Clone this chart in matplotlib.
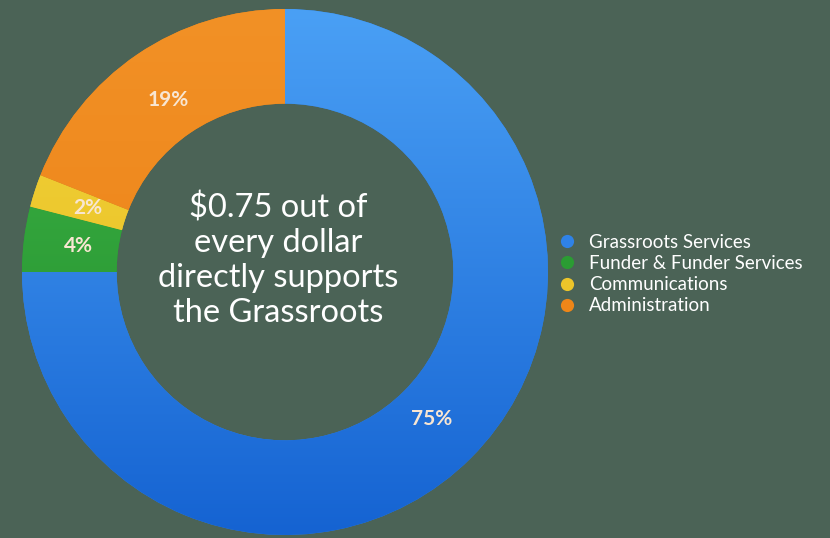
import matplotlib
matplotlib.use("Agg")
from matplotlib import pyplot as plt
from matplotlib.lines import Line2D
from matplotlib.colors import LinearSegmentedColormap
import numpy as np

labels = ["Grassroots Services", "Funder & Funder Services", "Communications", "Administration"]
shares = [75, 4, 2, 19]
colors = ["#2f82e6", "#2b9c33", "#ecc52a", "#ee8618"]
grad_top = ["#4aa0f5", "#3fb547", "#f2d43a", "#f29126"]
grad_bot = ["#1563d2", "#1f8a2a", "#e6b81e", "#ea7d12"]
center_text = "$0.75 out of\nevery dollar\ndirectly supports\nthe Grassroots"

bg = "#4b6356"
plt.rcParams['font.family'] = ['Lato', 'DejaVu Sans']

fig = plt.figure(figsize=(8.3, 5.38), dpi=100)
fig.patch.set_facecolor(bg)
W, H = 830, 538
cx, cy, R = 285, 272, 263
ax = fig.add_axes([(cx - R) / W, (H - cy - R) / H, 2 * R / W, 2 * R / H])
ax.set_facecolor(bg)

wedges, _ = ax.pie(shares, colors=colors, startangle=90, counterclock=False,
                   radius=1.0, wedgeprops=dict(width=0.36, edgecolor='none'))

# vertical gradient inside each wedge
grad = np.linspace(0, 1, 256).reshape(-1, 1)
for w, c0, c1 in zip(wedges, grad_top, grad_bot):
    cmap = LinearSegmentedColormap.from_list("g", [c0, c1])
    im = ax.imshow(grad, cmap=cmap, extent=(-1, 1, -1, 1), aspect='auto',
                   origin='upper', zorder=w.get_zorder() + 0.1)
    im.set_clip_path(w)

# percent labels at the ring middle
cum = 0
for s in shares:
    mid = np.deg2rad(90 - (cum + s / 2) * 3.6)
    cum += s
    r = 0.79
    ax.text(r * np.cos(mid), r * np.sin(mid), f"{s}%", ha='center', va='center',
            fontsize=15, fontweight='bold', color='#f8e6d2', zorder=5)

ax.text(-0.027, 0.045, center_text, ha='center', va='center', fontsize=23.5,
        color='white', linespacing=1.2, zorder=5)
ax.set_xlim(-1, 1)
ax.set_ylim(-1, 1)
ax.set_aspect('equal')
ax.axis('off')

handles = [Line2D([], [], marker='o', linestyle='none', markersize=9.5,
                  markerfacecolor=c, markeredgecolor='none') for c in colors]
leg = fig.legend(handles, labels, loc='center left', bbox_to_anchor=(539 / W, 1 - 274 / H),
                 frameon=False, fontsize=13.5, labelcolor='white', handletextpad=0.55,
                 labelspacing=0.22, handlelength=1.2)

fig.savefig("out.png", dpi=100, facecolor=bg)
